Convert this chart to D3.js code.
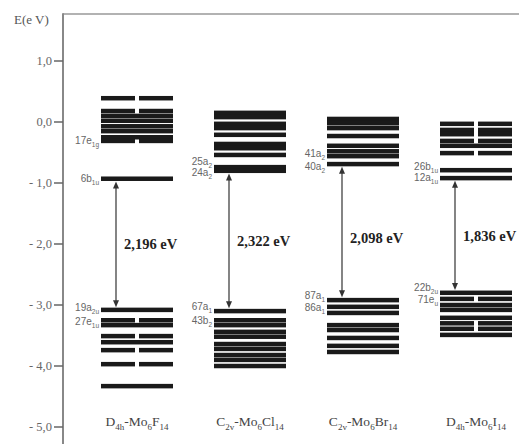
<!DOCTYPE html>
<html lang="en">
<head>
  <meta charset="UTF-8">
  <title>Mo6X14 energy levels</title>
  <script src="https://d3js.org/d3.v7.min.js"></script>
  <style>
    body { margin: 0; background: #fff; }
    svg { display: block; }
    .tick-label { font-family: 'Liberation Serif', serif; font-size: 12.5px; fill: #666; }
    .axis-title { font-family: 'Liberation Serif', serif; font-size: 13px; fill: #555; }
    .cat-label { font-family: 'Liberation Serif', serif; font-size: 13.5px; fill: #444; }
    .level-label { font-family: 'Liberation Sans', 'DejaVu Sans', sans-serif; font-size: 10px; fill: #666; }
    .level-label tspan { fill: #666; }
    .gap-label { font-family: 'Liberation Serif', serif; font-size: 14.5px; font-weight: bold; fill: #222; }
  </style>
</head>
<body>
  <svg width="519" height="444"></svg>

  <script>
    // molecules (subscripts written as _{..})
    const categories = ['F14', 'Cl14', 'Br14', 'I14'];
    const catNames = ['D_{4h}-Mo_{6}F_{14}', 'C_{2v}-Mo_{6}Cl_{14}', 'C_{2v}-Mo_{6}Br_{14}', 'D_{4h}-Mo_{6}I_{14}'];

    // orbital energies (eV) and degeneracy (2 = drawn as split bar)
    const f14Levels = [0.39, 0.18, 0.10, 0.02, -0.07, -0.15, -0.25, -0.31, -0.93,
                       -3.08, -3.25, -3.33, -3.51, -3.61, -3.74, -3.97, -4.33];
    const f14Degen  = [2, 2, 1, 1, 1, 1, 1, 2, 1,
                       1, 2, 1, 2, 1, 2, 2, 1];
    const cl14Levels = [0.15, 0.08, -0.03, -0.10, -0.21, -0.36, -0.43, -0.54, -0.74, -0.80,
                        -3.10, -3.25, -3.33, -3.44, -3.52, -3.64, -3.72, -3.82, -3.90, -4.00];
    const cl14Degen  = [1, 1, 1, 1, 1, 1, 1, 1, 1, 1,
                        1, 1, 1, 1, 1, 1, 1, 1, 1, 1];
    const br14Levels = [0.05, -0.02, -0.10, -0.23, -0.39, -0.48, -0.56, -0.69,
                        -2.92, -3.03, -3.13, -3.33, -3.41, -3.54, -3.67, -3.77];
    const br14Degen  = [1, 1, 1, 1, 1, 1, 1, 1,
                        1, 1, 1, 1, 1, 1, 1, 1];
    const i14Levels = [-0.03, -0.13, -0.20, -0.31, -0.39, -0.51, -0.79, -0.92,
                       -2.80, -2.90, -3.00, -3.08, -3.21, -3.30, -3.39, -3.49];
    const i14Degen  = [2, 2, 2, 2, 1, 2, 1, 1,
                       1, 2, 1, 1, 1, 2, 2, 1];

    // orbital names: [main, subscript, energy]
    const f14Names = [['17e', '1g', -0.31], ['6b', '1u', -0.93], ['19a', '2u', -3.05], ['27e', '1u', -3.28]];
    const cl14Names = [['25a', '2', -0.65], ['24a', '2', -0.83], ['67a', '1', -3.04], ['43b', '2', -3.27]];
    const br14Names = [['41a', '2', -0.53], ['40a', '2', -0.73], ['87a', '1', -2.85], ['86a', '1', -3.05]];
    const i14Names = [['26b', '1u', -0.73], ['12a', '1u', -0.92], ['22b', '2u', -2.72], ['71e', 'u', -2.91]];

    // HOMO-LUMO gaps: [upper, lower], label
    const gapEnds = [[-0.93, -3.08], [-0.80, -3.10], [-0.69, -2.92], [-0.92, -2.80]];
    const gapLabels = ['2,196 eV', '2,322 eV', '2,098 eV', '1,836 eV'];

    const yTicks = [1, 0, -1, -2, -3, -4, -5];
    const yTickLabels = ['1,0', '0,0', '- 1,0', '- 2,0', '- 3,0', '- 4,0', '- 5,0'];

    const molecules = [
      { levels: f14Levels, degen: f14Degen, names: f14Names },
      { levels: cl14Levels, degen: cl14Degen, names: cl14Names },
      { levels: br14Levels, degen: br14Degen, names: br14Names },
      { levels: i14Levels, degen: i14Degen, names: i14Names }
    ];

    const svg = d3.select('svg');
    const axisX = 63;
    const barW = 72, barH = 4.5, splitGap = 4;

    const y = d3.scaleLinear().domain([1, -5]).range([61, 427]);
    const x = d3.scalePoint().domain(categories).range([137, 476]);

    function richText(sel, str, subSize) {
      let shifted = false;
      str.split(/(_\{[^}]*\})/).filter(s => s).forEach(p => {
        if (p.startsWith('_{')) {
          sel.append('tspan').attr('dy', shifted ? 0 : 3.5).style('font-size', subSize).text(p.slice(2, -1));
          shifted = true;
        } else {
          sel.append('tspan').attr('dy', shifted ? -3.5 : 0).text(p);
          shifted = false;
        }
      });
    }

    // frame / axis
    svg.append('line')
      .attr('x1', axisX).attr('x2', 519).attr('y1', 14).attr('y2', 14)
      .attr('stroke', '#999').attr('stroke-width', 1.5);
    svg.append('line')
      .attr('x1', axisX).attr('x2', axisX).attr('y1', 13.3).attr('y2', 444)
      .attr('stroke', '#888').attr('stroke-width', 2);

    svg.append('text').attr('class', 'axis-title')
      .attr('x', 14).attr('y', 24).text('E(e V)');

    const ticks = svg.append('g');
    yTicks.forEach((t, i) => {
      ticks.append('line')
        .attr('x1', axisX - 9).attr('x2', axisX).attr('y1', y(t)).attr('y2', y(t))
        .attr('stroke', '#666').attr('stroke-width', 1.5);
      ticks.append('text').attr('class', 'tick-label')
        .attr('x', axisX - 11).attr('y', y(t)).attr('dy', '0.33em')
        .attr('text-anchor', 'end').text(yTickLabels[i]);
    });

    // levels
    molecules.forEach((m, ci) => {
      const cx = x(categories[ci]);
      const g = svg.append('g');
      m.levels.forEach((e, li) => {
        const yy = y(e) - barH / 2;
        if (m.degen[li] === 2) {
          g.append('rect').attr('x', cx - barW / 2).attr('y', yy)
            .attr('width', barW / 2 - splitGap / 2).attr('height', barH).attr('fill', '#1a1a1a');
          g.append('rect').attr('x', cx + splitGap / 2).attr('y', yy)
            .attr('width', barW / 2 - splitGap / 2).attr('height', barH).attr('fill', '#1a1a1a');
        } else {
          g.append('rect').attr('x', cx - barW / 2).attr('y', yy)
            .attr('width', barW).attr('height', barH).attr('fill', '#1a1a1a');
        }
      });

      m.names.forEach(n => {
        const t = g.append('text').attr('class', 'level-label')
          .attr('x', cx - barW / 2 - 2).attr('y', y(n[2])).attr('dy', '0.3em')
          .attr('text-anchor', 'end');
        t.append('tspan').text(n[0]);
        t.append('tspan').attr('dy', 3).style('font-size', '6.5px').text(n[1]);
      });

      // gap arrow
      const ax = cx - 21;
      const y1 = y(gapEnds[ci][0]) + barH / 2 + 0.5;
      const y2 = y(gapEnds[ci][1]) - barH / 2 - 0.5;
      g.append('line').attr('x1', ax).attr('x2', ax).attr('y1', y1 + 5).attr('y2', y2 - 5)
        .attr('stroke', '#333').attr('stroke-width', 1.2);
      g.append('path')
        .attr('d', `M${ax},${y1} L${ax - 3},${y1 + 7} L${ax + 3},${y1 + 7} Z`).attr('fill', '#333');
      g.append('path')
        .attr('d', `M${ax},${y2} L${ax - 3},${y2 - 7} L${ax + 3},${y2 - 7} Z`).attr('fill', '#333');

      g.append('text').attr('class', 'gap-label')
        .attr('x', ax + 8).attr('y', (y1 + y2) / 2 + (ci === 2 ? 6 : 0)).attr('dy', '0.35em')
        .text(gapLabels[ci]);

      const c = g.append('text').attr('class', 'cat-label')
        .attr('x', cx).attr('y', 426).attr('text-anchor', 'middle');
      richText(c, catNames[ci], '9px');
    });
  </script>
</body>
</html>
